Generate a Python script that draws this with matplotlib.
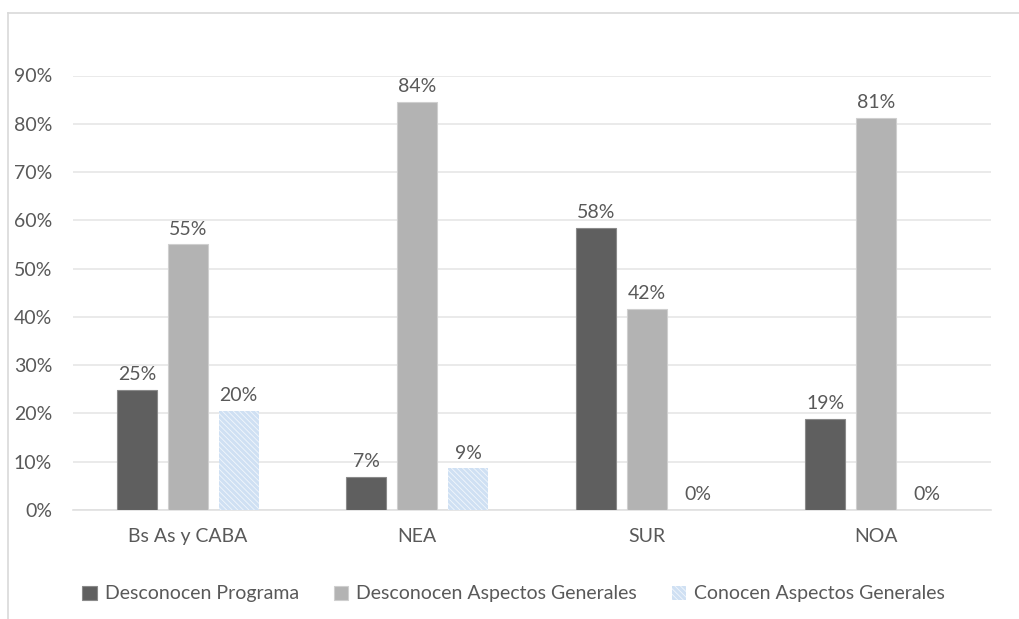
import numpy as np
import matplotlib
matplotlib.use("Agg")
import matplotlib.pyplot as plt
from matplotlib.lines import Line2D

# data
regiones = ["Bs As y CABA", "NEA", "SUR", "NOA"]
desconocen_programa = [0.249, 0.068, 0.5833, 0.188]
desconocen_aspectos = [0.550, 0.845, 0.4167, 0.812]
conocen_aspectos = [0.205, 0.086, 0.0, 0.0]
series_names = ["Desconocen Programa", "Desconocen Aspectos Generales",
                "Conocen Aspectos Generales"]
y_ticks = [0, 0.1, 0.2, 0.3, 0.4, 0.5, 0.6, 0.7, 0.8, 0.9]

text_color = "#595959"
plt.rcParams["font.family"] = ["Lato", "DejaVu Sans"]
plt.rcParams["hatch.linewidth"] = 0.6

fig = plt.figure(figsize=(10.19, 6.19), dpi=100)
ax = fig.add_axes([73 / 1019, 1 - 510 / 619, 918 / 1019, (510 - 75.5) / 619])

x = np.arange(len(regiones))
width = 0.174
step = 0.222

styles = [
    dict(color="#5f5f5f", edgecolor="#8a8a8a", linewidth=0.8),
    dict(color="#b3b3b3", edgecolor="#cfcfcf", linewidth=0.8),
    dict(facecolor="#cfe0f3", edgecolor="#f2f7fc", hatch="\\\\\\\\\\\\", linewidth=0),
]
values = [desconocen_programa, desconocen_aspectos, conocen_aspectos]

for i, (vals, st, name) in enumerate(zip(values, styles, series_names)):
    bars = ax.bar(x + (i - 1) * step, vals, width, label=name, zorder=3, **st)
    for b, v in zip(bars, vals):
        ax.annotate("{:.0f}%".format(v * 100),
                    (b.get_x() + b.get_width() / 2, v),
                    xytext=(0, 5), textcoords="offset points",
                    ha="center", va="bottom", fontsize=14, color=text_color)

ax.set_xlim(-0.5, 3.5)
ax.set_ylim(0, 0.9)
ax.set_yticks(y_ticks)
ax.set_yticklabels(["{:.0f}%".format(t * 100) for t in y_ticks])
ax.set_xticks(x)
ax.set_xticklabels(regiones)
ax.tick_params(axis="both", length=0, labelsize=14, labelcolor=text_color)
ax.tick_params(axis="y", pad=15)
ax.tick_params(axis="x", pad=13)
ax.grid(axis="y", color="#e6e6e6", linewidth=1.2, zorder=0)
for s in ["top", "right", "left"]:
    ax.spines[s].set_visible(False)
ax.spines["bottom"].set_color("#e0e0e0")
ax.spines["bottom"].set_linewidth(1.2)

fig.legend(loc="center", bbox_to_anchor=(0.504, 1 - 594 / 619), ncol=3,
           frameon=False, fontsize=14, labelcolor=text_color,
           handlelength=0.75, handleheight=0.75, handletextpad=0.4,
           columnspacing=1.8)

# chart frame (cropped at right and bottom)
fig.add_artist(Line2D([8 / 1019, 8 / 1019], [0, 1 - 13 / 619],
                      transform=fig.transFigure, color="#d9d9d9", lw=1.2))
fig.add_artist(Line2D([8 / 1019, 1], [1 - 13 / 619, 1 - 13 / 619],
                      transform=fig.transFigure, color="#d9d9d9", lw=1.2))

fig.savefig("out.png", dpi=100)
